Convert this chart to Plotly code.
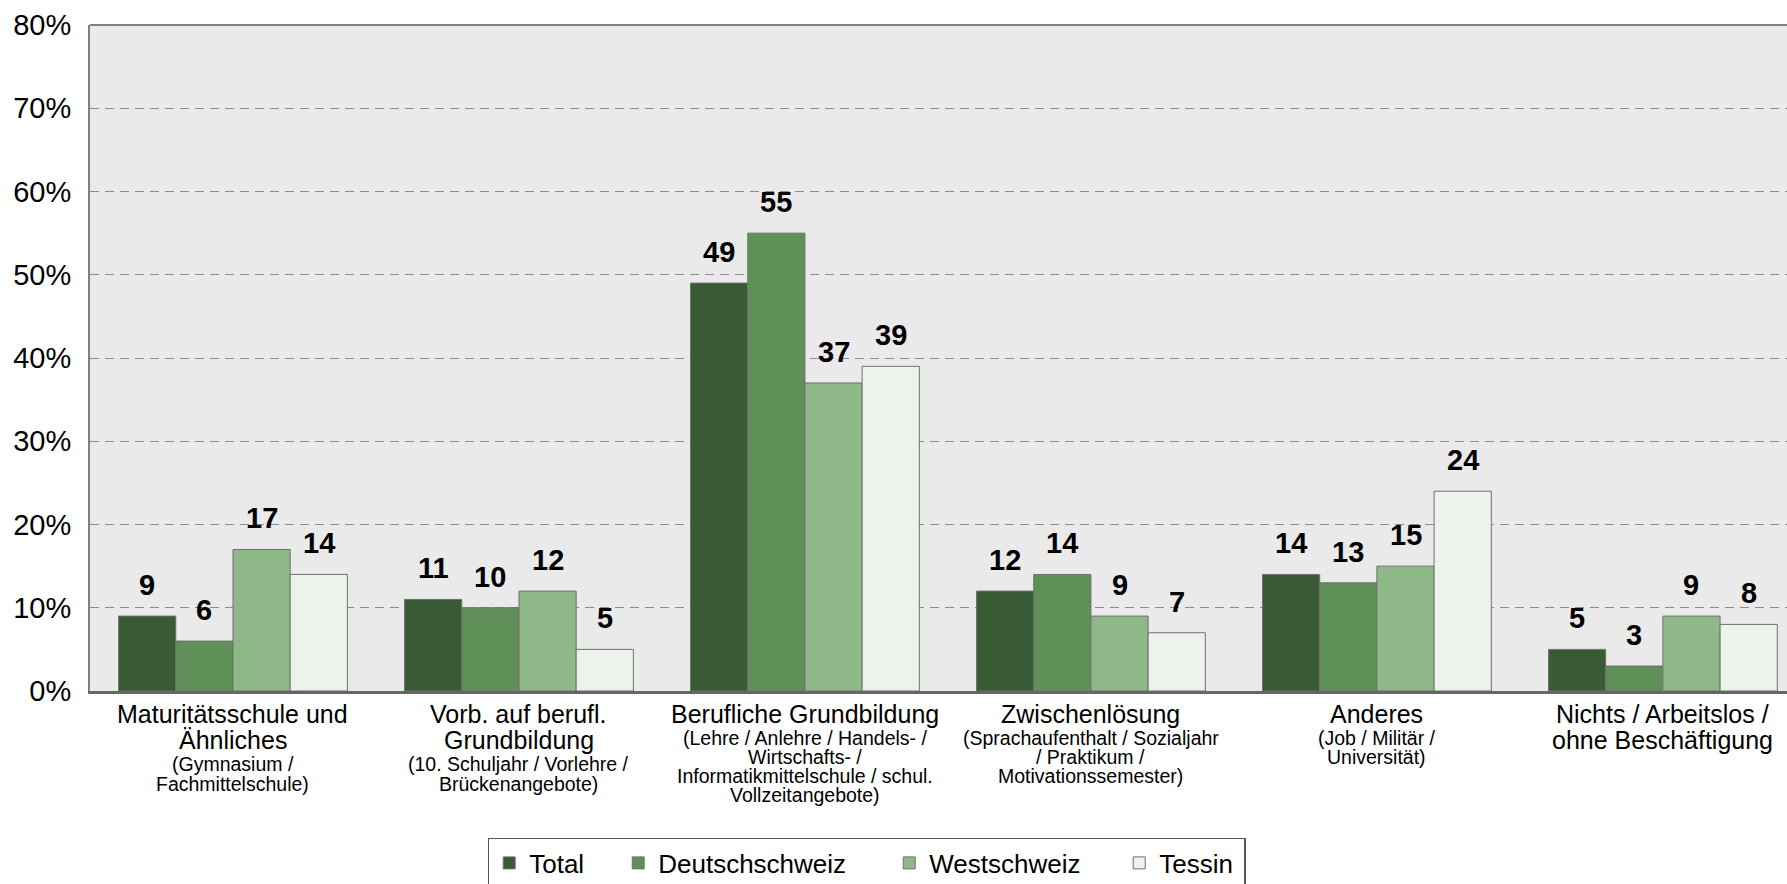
import plotly.graph_objects as go

categories = ["Maturitätsschule", "Vorb. berufl.", "Berufliche GB", "Zwischenlösung", "Anderes", "Nichts"]
cat_main = [
    ["Maturitätsschule und", "Ähnliches"],
    ["Vorb. auf berufl.", "Grundbildung"],
    ["Berufliche Grundbildung"],
    ["Zwischenlösung"],
    ["Anderes"],
    ["Nichts / Arbeitslos /", "ohne Beschäftigung"],
]
cat_sub = [
    ["(Gymnasium /", "Fachmittelschule)"],
    ["(10. Schuljahr / Vorlehre /", "Brückenangebote)"],
    ["(Lehre / Anlehre / Handels- /", "Wirtschafts- /", "Informatikmittelschule / schul.", "Vollzeitangebote)"],
    ["(Sprachaufenthalt / Sozialjahr", "/ Praktikum /", "Motivationssemester)"],
    ["(Job / Militär /", "Universität)"],
    [],
]

series_names = ["Total", "Deutschschweiz", "Westschweiz", "Tessin"]
total = [9, 11, 49, 12, 14, 5]
deutschschweiz = [6, 10, 55, 14, 13, 3]
westschweiz = [17, 12, 37, 9, 15, 9]
tessin = [14, 5, 39, 7, 24, 8]
series_values = [total, deutschschweiz, westschweiz, tessin]
colors = ["#385A34", "#5E9058", "#8FB888", "#EBF3EA"]
legend_widths = [84, 226, 185, 80]

y_tickvals = [0, 10, 20, 30, 40, 50, 60, 70, 80]
y_ticktext = ["0%", "10%", "20%", "30%", "40%", "50%", "60%", "70%", "80%"]

FONT = "Liberation Sans, Arial, sans-serif"
BARGAP = 0.2

fig = go.Figure()
for name, vals, col, lw in zip(series_names, series_values, colors, legend_widths):
    fig.add_trace(go.Bar(
        x=categories, y=vals, name=name, legendwidth=lw,
        marker=dict(color=col, line=dict(color="#707070", width=1)),
    ))

annotations = []
n = len(series_names)
bw = (1 - BARGAP) / n
for k, vals in enumerate(series_values):
    off = -(1 - BARGAP) / 2 + bw * (k + 0.5)
    for i, v in enumerate(vals):
        annotations.append(dict(
            x=i + off, y=v, xref="x", yref="y", text=f"<b>{v}</b>",
            showarrow=False, yanchor="bottom", yshift=13,
            font=dict(family=FONT, size=29, color="black"),
        ))

MAIN_FS, SUB_FS = 25, 19.5
MAIN0, MAIN_STEP, SUB_GAP, SUB_STEP = 22.5, 26.5, 24.3, 19.2
for i in range(len(categories)):
    pos = MAIN0
    for j, line in enumerate(cat_main[i]):
        pos = MAIN0 + j * MAIN_STEP
        annotations.append(dict(
            x=i, y=0, xref="x", yref="paper", text=line, showarrow=False,
            yanchor="middle", yshift=-pos,
            font=dict(family=FONT, size=MAIN_FS, color="black"),
        ))
    for j, line in enumerate(cat_sub[i]):
        p = pos + SUB_GAP + j * SUB_STEP
        annotations.append(dict(
            x=i, y=0, xref="x", yref="paper", text=line, showarrow=False,
            yanchor="middle", yshift=-p,
            font=dict(family=FONT, size=SUB_FS, color="black"),
        ))

fig.update_layout(
    width=1787, height=884,
    margin=dict(l=90, r=0, t=25, b=193, autoexpand=False),
    paper_bgcolor="white", plot_bgcolor="#EAEAEA",
    barmode="group", bargap=BARGAP, bargroupgap=0,
    font=dict(family=FONT, color="black"),
    showlegend=True,
    legend=dict(
        orientation="h", x=0.4577, xanchor="center", y=-0.2207, yanchor="top",
        font=dict(family=FONT, size=26, color="black"),
        bordercolor="#555555", borderwidth=1.5, bgcolor="white",
    ),
    annotations=annotations,
    shapes=[dict(type="line", xref="paper", yref="paper", x0=0, x1=1, y0=1, y1=1,
                 line=dict(color="#808080", width=2))],
)
fig.update_xaxes(
    range=[-0.5, 5.434], showticklabels=False, ticks="", showgrid=False,
    showline=True, linecolor="#666666", linewidth=2.5, zeroline=False, automargin=False,
)
fig.update_yaxes(
    range=[0, 80], tickvals=y_tickvals, ticktext=y_ticktext,
    tickfont=dict(family=FONT, size=29, color="black"),
    showgrid=True, gridcolor="#8C8C8C", gridwidth=1, griddash="9px,6px",
    showline=True, linecolor="#808080", linewidth=2, zeroline=False,
    ticks="", ticklabelstandoff=11, automargin=False,
)

fig.write_html(
    "out.html",
    config={"displayModeBar": False},
    post_script="document.body.style.margin='0';document.body.style.overflow='hidden';",
)
